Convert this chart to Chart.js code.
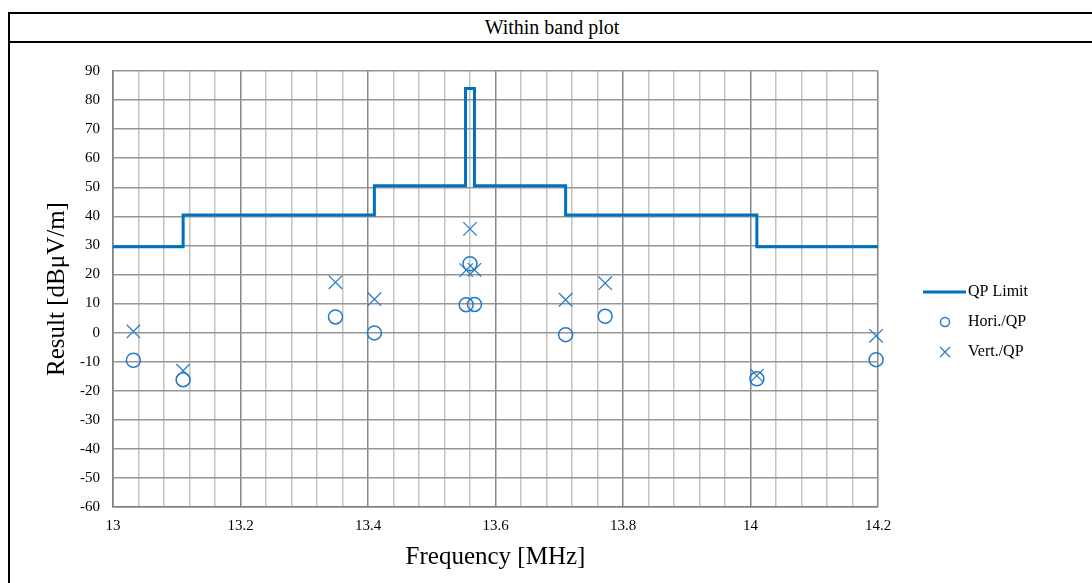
<!DOCTYPE html>
<html>
<head>
<meta charset="utf-8">
<script src="https://cdn.jsdelivr.net/npm/chart.js@4"></script>
<style>
  html, body { margin: 0; padding: 0; background: #fff; overflow: hidden; }
  #frame {
    position: absolute; left: 8px; top: 12px; width: 1088px; height: 700px;
    border: 2px solid #000; box-sizing: border-box;
  }
  #title {
    height: 29px; border-bottom: 2px solid #000; box-sizing: border-box;
    font-family: 'Liberation Serif', 'Times New Roman', serif; font-size: 20px;
    text-align: center; line-height: 27px; color: #000;
  }
  #chartBox { position: absolute; left: 0; top: 0; width: 1092px; height: 583px; }
</style>
</head>
<body>
<div id="frame"><div id="title">Within band plot</div></div>
<div id="chartBox"><canvas id="plot" width="1092" height="583"></canvas></div>
<script>
// QP limit (stepped)
const limitFreq = [13, 13.11, 13.41, 13.553, 13.567, 13.71, 14.01, 14.2];
const limitLevel = [29.5, 40.5, 50.5, 84, 50.5, 40.5, 29.5, 29.5];

// measured points
const measFreq = [13.032, 13.110, 13.349, 13.410, 13.554, 13.560, 13.567, 13.710, 13.772, 14.010, 14.197];
const horiQP = [-9.5, -16.2, 5.4, -0.1, 9.6, 23.7, 9.7, -0.7, 5.6, -15.9, -9.3];
const vertQP = [0.4, -13.1, 17.3, 11.5, 21.5, 35.7, 21.6, 11.3, 17.0, -14.8, -1.1];

const xMin = 13, xMax = 14.2, xStep = 0.04;
const yMin = -60, yMax = 90, yStep = 10;

const lineBlue = '#0070c0';
const markBlue = '#2479c9';
const serif = "'Liberation Serif', 'Times New Roman', serif";

function toPoints(xs, ys) {
    return xs.map((x, i) => ({ x: x, y: ys[i] }));
}

function isMajorX(v) {
    return Math.abs(v * 5 - Math.round(v * 5)) < 1e-6;
}

// legend drawn at fixed spot right of the plot
const sideLegend = {
    id: 'sideLegend',
    afterDraw(chart) {
        const ctx = chart.ctx;
        const x0 = 923, textX = 968, cx = 945;
        const rows = [292, 322, 352];
        ctx.save();
        chart.data.datasets.forEach((ds, i) => {
            const y = rows[i];
            ctx.strokeStyle = ds.borderColor;
            if (i === 0) {
                ctx.lineWidth = 3;
                ctx.beginPath();
                ctx.moveTo(x0, y);
                ctx.lineTo(x0 + 43, y);
                ctx.stroke();
            } else if (ds.pointStyle === 'circle') {
                ctx.lineWidth = 1.5;
                ctx.beginPath();
                ctx.arc(cx, y, 4.5, 0, Math.PI * 2);
                ctx.stroke();
            } else {
                ctx.lineWidth = 1.2;
                ctx.beginPath();
                ctx.moveTo(cx - 5, y - 5); ctx.lineTo(cx + 5, y + 5);
                ctx.moveTo(cx + 5, y - 5); ctx.lineTo(cx - 5, y + 5);
                ctx.stroke();
            }
            ctx.fillStyle = '#000';
            ctx.font = '16px ' + serif;
            ctx.textBaseline = 'middle';
            ctx.textAlign = 'left';
            ctx.fillText(ds.label, textX, y);
        });
        ctx.restore();
    }
};

const config = {
    type: 'scatter',
    data: {
        datasets: [
            {
                label: 'QP Limit',
                type: 'line',
                data: toPoints(limitFreq, limitLevel),
                borderColor: lineBlue,
                backgroundColor: lineBlue,
                borderWidth: 3,
                stepped: 'before',
                pointRadius: 0,
                fill: false,
                order: 2
            },
            {
                label: 'Hori./QP',
                data: toPoints(measFreq, horiQP),
                pointStyle: 'circle',
                pointRadius: 7,
                borderColor: markBlue,
                backgroundColor: 'rgba(0,0,0,0)',
                borderWidth: 1.5,
                clip: false,
                order: 1
            },
            {
                label: 'Vert./QP',
                data: toPoints(measFreq, vertQP),
                pointStyle: 'crossRot',
                pointRadius: 9.5,
                borderColor: markBlue,
                backgroundColor: markBlue,
                borderWidth: 1.2,
                clip: false,
                order: 0
            }
        ]
    },
    options: {
        responsive: false,
        animation: false,
        layout: { padding: { top: 71, right: 214, left: 0, bottom: 0 } },
        plugins: {
            legend: { display: false },
            title: { display: false },
            tooltip: { enabled: false }
        },
        scales: {
            x: {
                type: 'linear',
                min: xMin,
                max: xMax,
                afterFit(scale) { scale.height = 76; },
                border: { color: '#808080', width: 1.5 },
                grid: {
                    drawTicks: false,
                    lineWidth: 1.5,
                    color: (c) => isMajorX(c.tick.value) ? '#858585' : '#c4c4c4'
                },
                ticks: {
                    stepSize: xStep,
                    autoSkip: false,
                    maxRotation: 0,
                    padding: 10,
                    color: '#000',
                    font: { family: serif, size: 15 },
                    callback: (v) => isMajorX(v) ? String(Math.round(v * 10) / 10) : ''
                },
                title: {
                    display: true,
                    text: 'Frequency [MHz]',
                    color: '#000',
                    font: { family: serif, size: 25 },
                    padding: { top: 0, bottom: 11 }
                }
            },
            y: {
                min: yMin,
                max: yMax,
                afterFit(scale) { scale.width = 113; },
                border: { color: '#808080', width: 1.5 },
                grid: {
                    drawTicks: false,
                    lineWidth: 1.5,
                    color: '#959595'
                },
                ticks: {
                    stepSize: yStep,
                    autoSkip: false,
                    padding: 13,
                    color: '#000',
                    font: { family: serif, size: 15 }
                },
                title: {
                    display: true,
                    text: 'Result [dBμV/m]',
                    color: '#000',
                    font: { family: serif, size: 25 },
                    padding: { top: 42, bottom: 0 }
                }
            }
        }
    },
    plugins: [sideLegend]
};

new Chart(document.getElementById('plot'), config);
</script>
</body>
</html>
